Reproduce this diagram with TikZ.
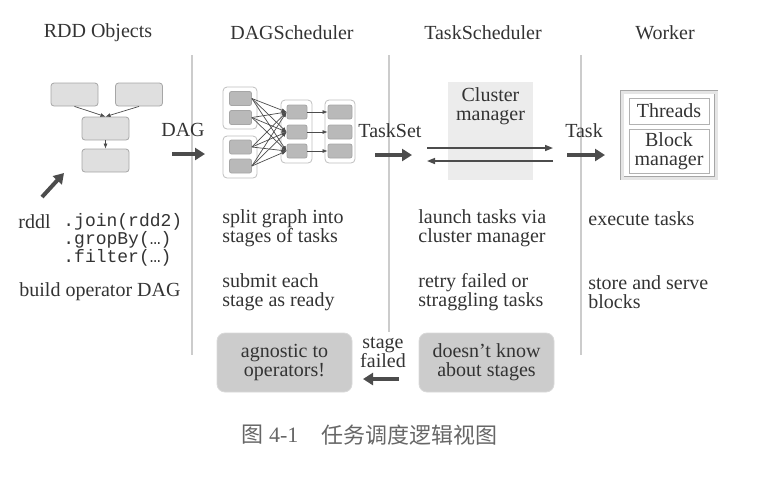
\documentclass[tikz,border=0pt]{standalone}
\usepackage{fontspec}
\setmainfont{Liberation Serif}
\setmonofont{Liberation Mono}
\newfontfamily\cjk{Noto Sans CJK SC}
\usetikzlibrary{arrows.meta}

\tikzset{
  title/.style={font=\fontsize{10}{11}\selectfont},
  body/.style={anchor=west, align=left, inner sep=0pt, font=\fontsize{10}{9.5}\selectfont},
  rdd/.style={draw=gray!70, fill=gray!25, rounded corners=1.5pt, minimum width=23.5pt, minimum height=11.5pt, inner sep=0pt},
  stagebox/.style={draw=gray!70, fill=gray!55, rounded corners=1pt, minimum width=11pt, minimum height=7pt, inner sep=0pt},
  grp/.style={draw=gray!50, rounded corners=2pt, inner sep=0pt},
  wbox/.style={draw=gray!60, minimum width=40pt, inner sep=0pt, align=center},
  hint/.style={fill=gray!40, draw=gray!30, rounded corners=4pt, minimum width=67.5pt, minimum height=29.5pt, align=center, font=\fontsize{10}{9.5}\selectfont},
  bigarrow/.style={draw=black!70, line width=2pt, -{Triangle[length=5pt,width=6pt]}},
  thinarrow/.style={draw=black!70, line width=0.75pt, -{Triangle[length=4pt,width=3pt]}},
  dagedge/.style={draw=black!70, line width=0.35pt, -{Latex[length=2.5pt,width=2pt]}},
  divider/.style={draw=gray!40, line width=0.75pt}
}

\begin{document}
\begin{tikzpicture}[x=0.5pt, y=-0.5pt, text=black!80]
  \useasboundingbox (0,0) rectangle (760,479);

  % Trennlinien
  \draw[divider] (192,55) -- (192,355);
  \draw[divider] (389,55) -- (389,332);
  \draw[divider] (581,55) -- (581,355);

  % Ueberschriften
  \node[title] (t1) at (98,33) {RDD Objects};
  \node[title] (t2) at (292,33) {DAGScheduler};
  \node[title] (t3) at (483,33) {TaskScheduler};
  \node[title] (t4) at (665,33) {Worker};

  % RDD Objects
  \node[rdd] (r1) at (74.5,94.5) {};
  \node[rdd] (r2) at (139,94.5) {};
  \node[rdd] (r3) at (105.5,128.5) {};
  \node[rdd] (r4) at (105.5,160.5) {};
  \draw[dagedge] (r1.south) -- (r3.north);
  \draw[dagedge] (r2.south) -- (r3.north);
  \draw[dagedge] (r3.south) -- (r4.north);

  \coordinate (p1) at (42,197);
  \coordinate (p2) at (64,173);
  \draw[bigarrow] (p1) -- (p2);

  \node[body] (rddl) at (18,222) {rddl};
  \node[body, font=\ttfamily\fontsize{9}{9}\selectfont] (code) at (63,240)
    {.join(rdd2)\\.gropBy(\dots)\\.filter(\dots)};
  \node[body] (build) at (19,292) {build operator DAG};

  % DAG
  \node[inner sep=0pt] (dag) at (183,130) {DAG};
  \coordinate (d1) at (172,154);
  \coordinate (d2) at (205,154);
  \draw[bigarrow] (d1) -- (d2);

  % DAGScheduler
  \node[grp, minimum width=17pt, minimum height=21pt] (g1) at (240,108) {};
  \node[grp, minimum width=17pt, minimum height=21pt] (g2) at (240,157) {};
  \node[grp, minimum width=15.5pt, minimum height=31.5pt] (g3) at (296.5,131.5) {};
  \node[grp, minimum width=15pt, minimum height=31.5pt] (g4) at (340,131.5) {};

  \node[stagebox] (a1) at (240.5,98.5) {};
  \node[stagebox] (a2) at (240.5,117.5) {};
  \node[stagebox] (a3) at (240.5,147) {};
  \node[stagebox] (a4) at (240.5,166) {};
  \node[stagebox, minimum width=10pt] (b1) at (297,112) {};
  \node[stagebox, minimum width=10pt] (b2) at (297,132) {};
  \node[stagebox, minimum width=10pt] (b3) at (297,151) {};
  \node[stagebox, minimum width=12pt] (c1) at (340,112) {};
  \node[stagebox, minimum width=12pt] (c2) at (340,132) {};
  \node[stagebox, minimum width=12pt] (c3) at (340,151) {};

  \foreach \a in {a1,a2,a3,a4}
    \foreach \b in {b1,b2,b3}
      \draw[dagedge] (\a.east) -- (\b.west);
  \foreach \i in {1,2,3}
    \draw[dagedge] (b\i.east) -- (c\i.west);

  \node[body] (split) at (222,228.5) {split graph into\\stages of tasks};
  \node[body] (submit) at (222,292.5) {submit each\\stage as ready};

  % TaskSet
  \node[inner sep=0pt] (tset) at (390,131) {TaskSet};
  \coordinate (s1) at (375,155);
  \coordinate (s2) at (412,155);
  \draw[bigarrow] (s1) -- (s2);

  % TaskScheduler
  \node[fill=gray!15, minimum width=42.5pt, minimum height=49pt, inner sep=0pt] (cm) at (490.5,131) {};
  \node[align=center, inner sep=0pt, font=\fontsize{10}{9.5}\selectfont] (cml) at (490.5,106) {Cluster\\manager};
  \coordinate (m1) at (427,148);
  \coordinate (m2) at (553,148);
  \coordinate (m3) at (553,161);
  \coordinate (m4) at (427,161);
  \draw[thinarrow] (m1) -- (m2);
  \draw[thinarrow] (m3) -- (m4);

  \node[body] (launch) at (418,228.5) {launch tasks via\\cluster manager};
  \node[body] (retry) at (418,292.5) {retry failed or\\straggling tasks};

  % Task
  \node[inner sep=0pt] (task) at (584,131) {Task};
  \coordinate (k1) at (567,155);
  \coordinate (k2) at (605,155);
  \draw[bigarrow] (k1) -- (k2);

  % Worker
  \node[draw=gray!70, double=gray!20, double distance=1.5pt, minimum width=47pt, minimum height=43pt, inner sep=0pt] (worker) at (669,135) {};
  \node[wbox, minimum height=13pt] (threads) at (669,111) {Threads};
  \node[wbox, minimum height=22pt, font=\fontsize{10}{9.5}\selectfont] (block) at (669,151) {Block\\manager};

  \node[body] (exec) at (588,219) {execute tasks};
  \node[body] (store) at (588,292.5) {store and serve\\blocks};

  % untere Kaesten
  \node[hint] (agn) at (284.5,362.5) {agnostic to\\operators!};
  \node[hint] (dnk) at (486.5,362.5) {doesn't know\\about stages};
  \node[align=center, inner sep=0pt, font=\fontsize{10}{9.5}\selectfont] (sf) at (383,352) {stage\\failed};
  \coordinate (f1) at (399,379);
  \coordinate (f2) at (363,379);
  \draw[bigarrow] (f1) -- (f2);

  % Bildunterschrift
  \node[text=black!60, font=\fontsize{11}{11}\selectfont, inner sep=0pt] (capn) at (270,435) {{\cjk 图} 4-1};
  \node[text=black!60, font=\cjk\fontsize{11}{11}\selectfont, inner sep=0pt] (capt) at (409,435) {任务调度逻辑视图};
\end{tikzpicture}
\end{document}
